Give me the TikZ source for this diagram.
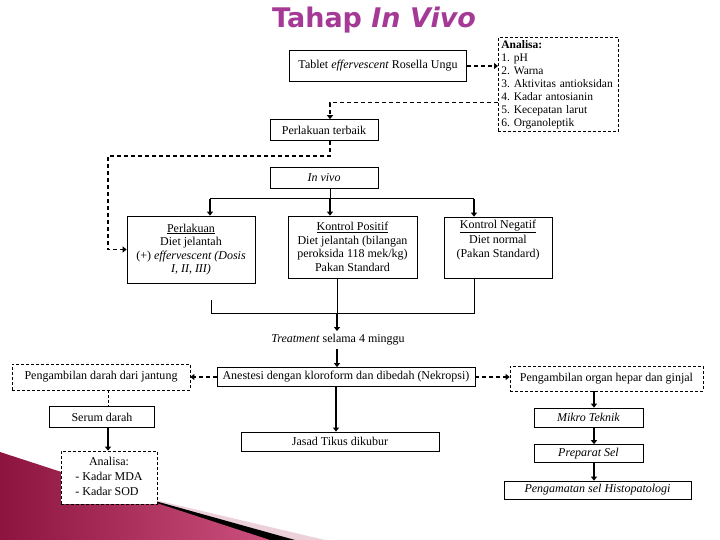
\documentclass[tikz,border=0pt]{standalone}
\usepackage{fontspec}
\setmainfont{Liberation Serif}
\newfontfamily\titlefont{DejaVu Sans}
\usepackage{xcolor}
\usepackage{tikz}
\usetikzlibrary{positioning, arrows.meta}
\frenchspacing

\definecolor{tahapcol}{RGB}{164,58,150}
\definecolor{maroondark}{RGB}{140,20,62}
\definecolor{maroonlight}{RGB}{205,80,125}
\definecolor{pinkband}{RGB}{236,208,218}

\begin{document}
\begin{tikzpicture}[
    x=1pt, y=-1pt,
    box/.style={rectangle, draw, line width=0.7pt, fill=white, inner sep=1pt, align=center},
    dbox/.style={box, dash pattern=on 3pt off 2pt},
    arr/.style={-{Triangle[length=4pt, width=6pt]}, line width=2pt},
    darr/.style={arr, line width=1.6pt, dash pattern=on 4pt off 3pt},
    every node/.style={font=\fontsize{12}{13.5}\selectfont}
]
    \useasboundingbox (0,0) rectangle (720,540);

    % Background bands
    \fill[pinkband] (130,494) -- (325,540) -- (130,540) -- cycle;
    \fill[black] (130,494) -- (295,540) -- (130,540) -- cycle;
    \shade[left color=maroondark, right color=maroonlight] (0,452) -- (270,540) -- (0,540) -- cycle;

    % Title
    \node[font=\titlefont\bfseries\fontsize{27}{32}\selectfont, text=tahapcol] (title) at (374,20) {Tahap \textit{In Vivo}};

    % Boxes
    \node[box, minimum width=177, minimum height=31] (tablet) at (378,66) {Tablet \textit{effervescent} Rosella Ungu};
    \node[dbox, anchor=north west, text width=114, align=left, inner sep=3pt, minimum height=94,
          font=\fontsize{11.5}{13}\selectfont] (analisa) at (498,37)
        {\textbf{Analisa:}\\1. pH\\2. Warna\\3. Aktivitas antioksidan\\4. Kadar antosianin\\5. Kecepatan larut\\6. Organoleptik};
    \node[box, minimum width=108, minimum height=21] (terbaik) at (324,130) {Perlakuan terbaik};
    \node[box, minimum width=108, minimum height=21] (invivo) at (324,178) {\textit{In vivo}};

    \node[box, minimum width=128, minimum height=67] (perlakuan) at (191,249.5)
        {\underline{Perlakuan}\\Diet jelantah\\(+) \textit{effervescent (Dosis}\\\textit{I, II, III)}};
    \node[box, minimum width=129, minimum height=62] (positif) at (352.5,247)
        {\underline{Kontrol Positif}\\Diet jelantah (bilangan\\peroksida 118 mek/kg)\\Pakan Standard};
    \node[box, minimum width=108, minimum height=61] (negatif) at (498,247.5)
        {\underline{Kontrol Negatif}\\[2pt]Diet normal\\(Pakan Standard)\\\strut};

    \node (treat) at (338,340) {\textit{Treatment} selama 4 minggu};

    \node[box, minimum width=258, minimum height=19] (anestesi) at (346,377) {Anestesi dengan kloroform dan dibedah (Nekropsi)};
    \node[dbox, minimum width=178, minimum height=26] (darah) at (101,377) {Pengambilan darah dari jantung};
    \node[dbox, minimum width=193, minimum height=25] (organ) at (606.5,378.5) {Pengambilan organ hepar dan ginjal};

    \node[box, minimum width=105, minimum height=21] (serum) at (102,417) {Serum darah};
    \node[dbox, minimum width=96, minimum height=53, font=\fontsize{12}{15}\selectfont] (mda) at (109,477.5)
        {\begin{tabular}{@{}l@{}}\multicolumn{1}{@{}c@{}}{Analisa:}\\- Kadar MDA\\- Kadar SOD\end{tabular}};
    \node[box, minimum width=198, minimum height=19] (jasad) at (340,441.5) {Jasad Tikus dikubur};

    \node[box, minimum width=109, minimum height=19] (mikro) at (588.5,417.5) {\textit{Mikro Teknik}};
    \node[box, minimum width=109, minimum height=18] (preparat) at (588.5,453.5) {\textit{Preparat Sel}};
    \node[box, minimum width=187, minimum height=18] (histo) at (597.5,490) {\textit{Pengamatan sel Histopatologi}};

    % Dashed links at the top
    \draw[darr] (tablet.east) -- (tablet.east -| analisa.west);
    \draw[darr] ([yshift=-18pt]analisa.west) -| ([xshift=6pt]terbaik.north);
    \coordinate (bend) at (108,156);
    \draw[darr] ([xshift=6pt]terbaik.south) |- (bend) |- (perlakuan.west);

    % In vivo to the three groups
    \draw[line width=0.7pt] ([xshift=6pt]invivo.south) -- ++(0,10) coordinate (split);
    \draw[line width=0.7pt] ([xshift=19pt]perlakuan.north |- split) -- ([xshift=-24pt]negatif.north |- split);
    \draw[arr] ([xshift=19pt]perlakuan.north |- split) -- ([xshift=19pt]perlakuan.north);
    \draw[arr] (split) -- (split |- positif.north);
    \draw[arr] ([xshift=-24pt]negatif.north |- split) -- ([xshift=-24pt]negatif.north);

    % Groups join into the treatment
    \draw[line width=0.7pt] ([xshift=-15.5pt]positif.south) -- ++(0,35) coordinate (join);
    \draw[line width=0.7pt] ([xshift=20pt]perlakuan.south |- join) ++(0,-13) -- ([xshift=20pt]perlakuan.south |- join)
        -- ([xshift=-24pt]negatif.south |- join) -- ([xshift=-24pt]negatif.south);
    \draw[arr] (join) -- (join |- treat.north);
    \draw[arr] (treat.south -| join) -- (anestesi.north -| join);

    % After anesthesia
    \draw[darr] (anestesi.west) -- (darah.east);
    \draw[darr] (anestesi.east) -- (anestesi.east -| organ.west);
    \draw[arr] ([xshift=-10pt]anestesi.south) -- ([xshift=-10pt]anestesi.south |- jasad.north);

    % Blood branch
    \draw[line width=0.7pt, dash pattern=on 3pt off 2pt] ([xshift=7pt]darah.south) -- ([xshift=7pt]darah.south |- serum.north);
    \draw[arr] ([xshift=7pt]darah.south |- serum.south) -- ([xshift=7pt]darah.south |- mda.north);

    % Organ branch
    \draw[arr] ([xshift=5.5pt]mikro.north |- organ.south) -- ([xshift=5.5pt]mikro.north);
    \draw[arr] ([xshift=5.5pt]mikro.south) -- ([xshift=5.5pt]preparat.north);
    \draw[arr] ([xshift=5.5pt]preparat.south) -- ([xshift=5.5pt]preparat.south |- histo.north);
\end{tikzpicture}
\end{document}
